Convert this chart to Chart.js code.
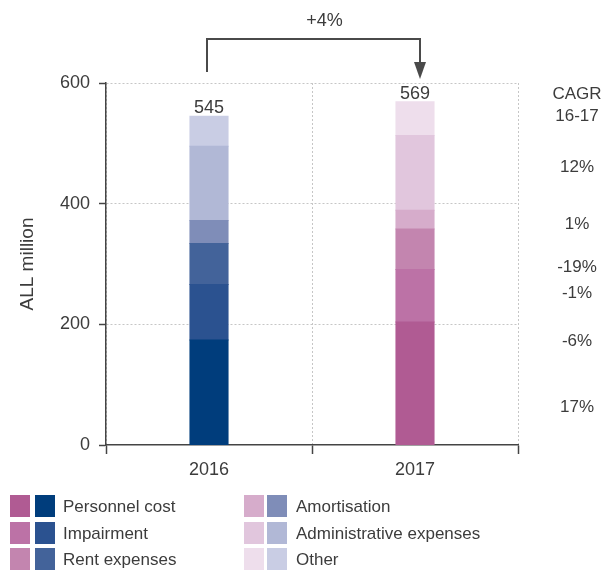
<!DOCTYPE html>
<html>
<head>
<meta charset="utf-8">
<script src="https://cdn.jsdelivr.net/npm/chart.js@4.4.1/dist/chart.umd.min.js"></script>
<style>
  html, body { margin: 0; padding: 0; background: #fff; }
  #wrap { width: 605px; height: 571px; }
</style>
</head>
<body>
<div id="wrap"><canvas id="chart" width="605" height="571"></canvas></div>
<script>
// --- DATA ---
const years = ['2016', '2017'];
const seriesNames = ['Personnel cost', 'Impairment', 'Rent expenses', 'Amortisation', 'Administrative expenses', 'Other'];
const personnel = [174, 204];
const impairment = [92, 87];
const rent = [68, 67];
const amortisation = [38, 31];
const administrative = [123, 124];
const other = [50, 56];
const totals = [545, 569];
const cagr = ['17%', '-6%', '-1%', '-19%', '1%', '12%'];
const growth = '+4%';
const yTicks = [0, 200, 400, 600];

// --- STYLE ---
const blues = ['#003d7c', '#2b5290', '#43639a', '#7f8db8', '#b1b8d6', '#c9cde4'];
const pinks = ['#b05b93', '#bc72a6', '#c385af', '#d6accb', '#e1c6dd', '#eedeec'];
const textColor = '#3c3c3c';
const axisColor = '#444';
const gridColor = '#c6c6c6';
const fontFamily = '"Liberation Sans", Arial, sans-serif';

const seriesValues = [personnel, impairment, rent, amortisation, administrative, other];

const datasets = seriesValues.map((vals, i) => ({
    label: seriesNames[i],
    data: vals,
    backgroundColor: [blues[i], pinks[i]],
    borderWidth: 0,
    inflateAmount: 0.5,
    barPercentage: 0.185,
    categoryPercentage: 1
}));

// labels, bracket, CAGR column and legend
const extrasPlugin = {
    id: 'extras',
    afterDraw(chart) {
        const ctx = chart.ctx;
        const x = chart.scales.x;
        const y = chart.scales.y;
        ctx.save();
        ctx.fillStyle = textColor;
        ctx.textAlign = 'center';

        // totals above bars
        ctx.font = '18px ' + fontFamily;
        ctx.textBaseline = 'alphabetic';
        totals.forEach((t, i) => {
            ctx.fillText(String(t), x.getPixelForValue(i), y.getPixelForValue(t) - 3);
        });

        // growth bracket
        const x0 = x.getPixelForValue(0) - 2;
        const x1 = x.getPixelForValue(1) + 5;
        ctx.strokeStyle = '#4a4a4a';
        ctx.lineWidth = 2;
        ctx.beginPath();
        ctx.moveTo(x0, 72);
        ctx.lineTo(x0, 39);
        ctx.lineTo(x1, 39);
        ctx.lineTo(x1, 63);
        ctx.stroke();
        ctx.fillStyle = '#4a4a4a';
        ctx.beginPath();
        ctx.moveTo(x1 - 6, 62);
        ctx.lineTo(x1 + 6, 62);
        ctx.lineTo(x1, 79);
        ctx.closePath();
        ctx.fill();
        ctx.fillStyle = textColor;
        ctx.textBaseline = 'middle';
        ctx.fillText(growth, (x0 + x1) / 2 + 11, 21);

        // CAGR column
        ctx.font = '17px ' + fontFamily;
        const cx = 577;
        ctx.fillText('CAGR', cx, 94);
        ctx.fillText('16-17', cx, 116);
        const cagrY = [407, 341, 293, 267, 224, 167];
        cagr.forEach((c, i) => ctx.fillText(c, cx, cagrY[i]));

        // legend
        ctx.textAlign = 'left';
        const rowTop = [495, 522, 548];
        const cols = [{ p: 10, b: 35, t: 63 }, { p: 244, b: 267, t: 296 }];
        seriesNames.forEach((name, i) => {
            const col = cols[Math.floor(i / 3)];
            const top = rowTop[i % 3];
            ctx.fillStyle = pinks[i];
            ctx.fillRect(col.p, top, 20, 22);
            ctx.fillStyle = blues[i];
            ctx.fillRect(col.b, top, 20, 22);
            ctx.fillStyle = textColor;
            ctx.fillText(name, col.t, top + 12);
        });
        ctx.restore();
    }
};

new Chart(document.getElementById('chart'), {
    type: 'bar',
    data: { labels: years, datasets: datasets },
    options: {
        responsive: false,
        animation: false,
        devicePixelRatio: 1,
        layout: { padding: { top: 83, right: 87, bottom: 86, left: 0 } },
        plugins: { legend: { display: false }, tooltip: { enabled: false } },
        scales: {
            x: {
                stacked: true,
                afterFit: s => { s.height = 40; },
                grid: {
                    offset: true,
                    color: gridColor,
                    lineWidth: 1,
                    tickLength: 9,
                    tickColor: axisColor,
                    tickWidth: 1.5,
                    tickBorderDash: []
                },
                border: { color: axisColor, width: 1.5, dash: [2, 2] },
                ticks: { color: textColor, font: { family: fontFamily, size: 18 }, padding: 5 }
            },
            y: {
                stacked: true,
                min: 0,
                max: 600,
                afterFit: s => { s.width = 106; },
                afterBuildTicks: s => { s.ticks = yTicks.map(v => ({ value: v })); },
                grid: {
                    color: c => (c.tick && c.tick.value === 0 ? 'rgba(0,0,0,0)' : gridColor),
                    lineWidth: 1,
                    tickLength: 7,
                    tickColor: axisColor,
                    tickWidth: 1.5,
                    tickBorderDash: []
                },
                border: { color: axisColor, width: 1.5, dash: [2, 2] },
                ticks: { color: textColor, font: { family: fontFamily, size: 18 }, padding: 9 },
                title: {
                    display: true,
                    text: 'ALL million',
                    color: textColor,
                    font: { family: fontFamily, size: 19 },
                    padding: { top: 16, bottom: 0 }
                }
            }
        }
    },
    plugins: [extrasPlugin]
});
</script>
</body>
</html>
